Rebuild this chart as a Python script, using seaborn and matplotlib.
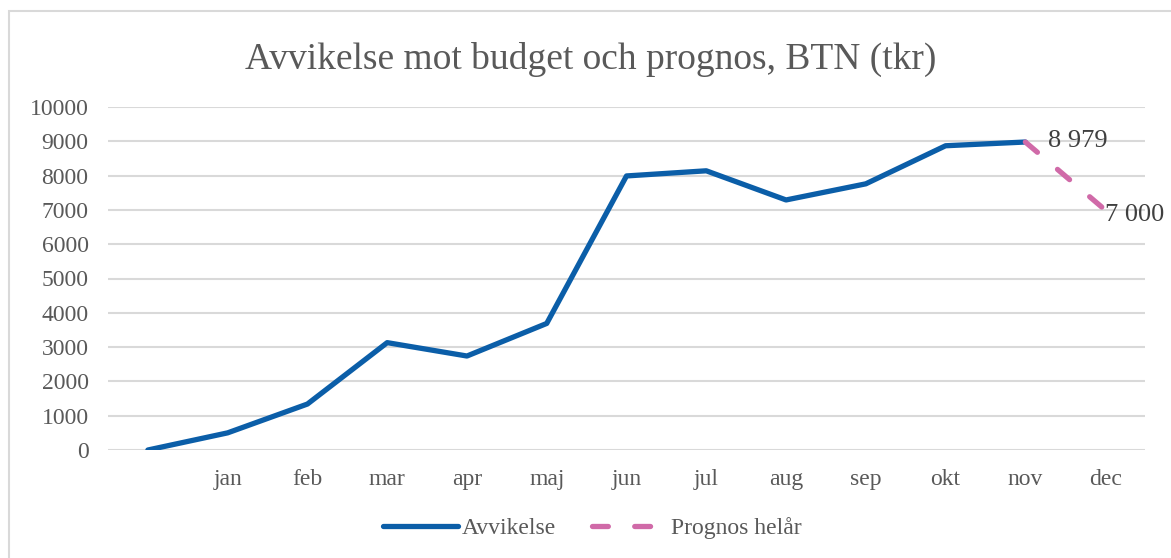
import matplotlib
matplotlib.use("Agg")
import matplotlib.pyplot as plt
import seaborn as sns
import pandas as pd
from matplotlib.patches import Rectangle
from matplotlib.lines import Line2D

months = ["", "jan", "feb", "mar", "apr", "maj", "jun", "jul", "aug", "sep", "okt", "nov", "dec"]
avvikelse = [0, 500, 1340, 3130, 2740, 3690, 7990, 8140, 7290, 7760, 8870, 8979]
prognos_months = ["nov", "dec"]
prognos = [8979, 7000]
prognos_labels = ["8 979", "7 000"]
yticks = [0, 1000, 2000, 3000, 4000, 5000, 6000, 7000, 8000, 9000, 10000]

BLUE = "#0B5EA8"
PINK = "#D06AA8"
GRAY = "#595959"
GRID = "#D9D9D9"

sns.set_theme(style="white")
plt.rcParams["font.family"] = ["Liberation Serif", "DejaVu Serif"]

fig = plt.figure(figsize=(11.71, 5.58), dpi=100)
ax = fig.add_axes([108/1171, 1-450/558, (1145-108)/1171, (450-107)/558])

pos = {m: i for i, m in enumerate(months)}
df_a = pd.DataFrame({"x": [pos[m] for m in months[:len(avvikelse)]], "y": avvikelse})
df_p = pd.DataFrame({"x": [pos[m] for m in prognos_months], "y": prognos})

sns.lineplot(data=df_a, x="x", y="y", ax=ax, color=BLUE, linewidth=3.8,
             solid_capstyle="round", solid_joinstyle="round", zorder=3)
sns.lineplot(data=df_p, x="x", y="y", ax=ax, color=PINK, linewidth=3.8,
             dashes=False, zorder=3)
ax.lines[-1].set_dashes([3, 5])
ax.lines[-1].set_dash_capstyle("round")

for xv, yv, lab, off in zip(df_p["x"], df_p["y"], prognos_labels, [(16, 1), (0, -4)]):
    ax.annotate(lab, (xv, yv), xytext=off, textcoords="offset points",
                ha="left", va="center", fontsize=19, color="#404040")

ax.set_xlim(-0.5, len(months) - 0.5)
ax.set_ylim(0, 10000)
ax.set_yticks(yticks)
ax.set_yticklabels([str(v) for v in yticks])
ax.set_xticks(range(len(months)))
ax.set_xticklabels(months)
ax.tick_params(axis="y", labelsize=17, colors=GRAY, length=0, pad=14)
ax.tick_params(axis="x", labelsize=17, colors=GRAY, length=0, pad=14)
ax.set_xlabel("")
ax.set_ylabel("")
ax.grid(axis="y", color=GRID, linewidth=1.5)
ax.grid(axis="x", visible=False)
for s in ax.spines.values():
    s.set_visible(False)

fig.text(591/1171, 1-59/558, "Avvikelse mot budget och prognos, BTN (tkr)",
         ha="center", va="center", fontsize=27, color=GRAY)

handles = [Line2D([0], [0], color=BLUE, lw=3.8, solid_capstyle="round"),
           Line2D([0], [0], color=PINK, lw=3.8, dashes=[3, 5], dash_capstyle="round")]
fig.legend(handles, ["Avvikelse", "Prognos helår"], loc="center",
           bbox_to_anchor=(592/1171, 1-528/558), ncol=2, frameon=False,
           fontsize=17, labelcolor=GRAY, handlelength=3.2, handletextpad=0.15,
           columnspacing=1.5)

fig.patches.append(Rectangle((9/1171, -0.1), 1.2, 1-11/558+0.1, transform=fig.transFigure,
                             fill=False, edgecolor="#D9D9D9", linewidth=1.5))

fig.savefig("out.png", dpi=100)
